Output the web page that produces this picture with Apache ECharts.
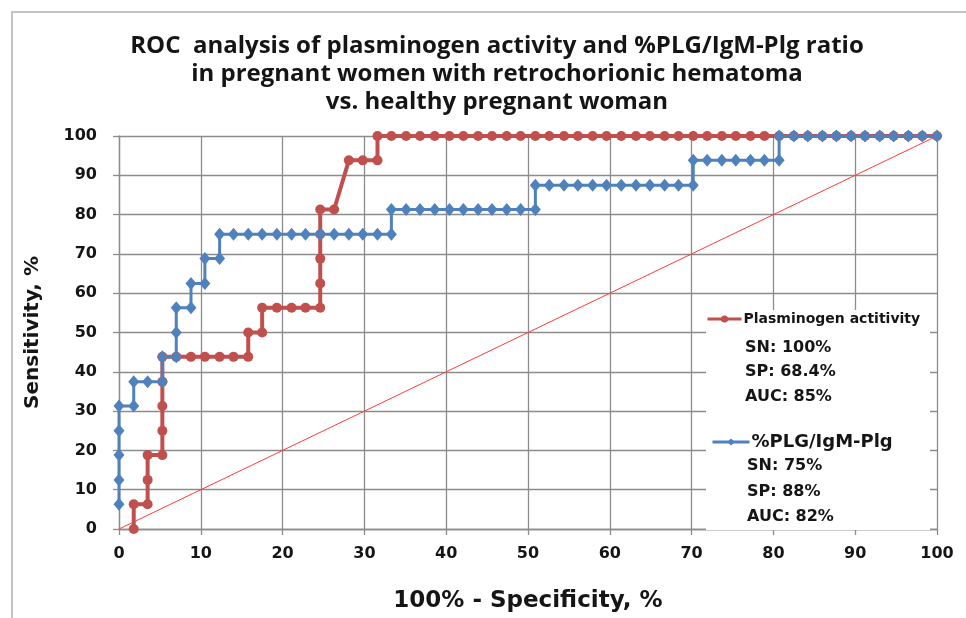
<!DOCTYPE html>
<html>
<head>
<meta charset="utf-8">
<script src="https://cdn.jsdelivr.net/npm/echarts@6/dist/echarts.min.js"></script>
<style>
  html, body { margin: 0; padding: 0; background: #fff; }
  #chart { width: 966px; height: 618px; }
</style>
</head>
<body>
<div id="chart"></div>
<script>
// --- données (100% - spécificité, sensibilité) ---
const plgX = [1.8, 1.8, 3.5, 3.5, 3.5, 5.3, 5.3, 5.3, 5.3, 5.3, 7.0, 8.8, 10.5, 12.3, 14.0, 15.8, 15.8, 17.5, 17.5,
  19.3, 21.1, 22.8, 24.6, 24.6, 24.6, 24.6, 24.6, 26.3, 28.1, 29.8, 31.6, 31.6,
  33.3, 35.1, 36.8, 38.6, 40.4, 42.1, 43.9, 45.6, 47.4, 49.1, 50.9, 52.6, 54.4, 56.1, 57.9, 59.6, 61.4, 63.2, 64.9,
  66.7, 68.4, 70.2, 71.9, 73.7, 75.4, 77.2, 78.9, 80.7, 82.5, 84.2, 86.0, 87.7, 89.5, 91.2, 93.0, 94.7, 96.5, 98.2, 100];
const plgY = [0, 6.3, 6.3, 12.5, 18.8, 18.8, 25, 31.3, 37.5, 43.8, 43.8, 43.8, 43.8, 43.8, 43.8, 43.8, 50, 50, 56.3,
  56.3, 56.3, 56.3, 56.3, 62.5, 68.8, 75, 81.3, 81.3, 93.8, 93.8, 93.8, 100,
  100, 100, 100, 100, 100, 100, 100, 100, 100, 100, 100, 100, 100, 100, 100, 100, 100, 100, 100,
  100, 100, 100, 100, 100, 100, 100, 100, 100, 100, 100, 100, 100, 100, 100, 100, 100, 100, 100, 100];

const ratioX = [0, 0, 0, 0, 0, 1.8, 1.8, 3.5, 5.3, 5.3, 7.0, 7.0, 7.0, 8.8, 8.8, 10.5, 10.5, 12.3, 12.3,
  14.0, 15.8, 17.5, 19.3, 21.1, 22.8, 24.6, 26.3, 28.1, 29.8, 31.6, 33.3,
  33.3, 35.1, 36.8, 38.6, 40.4, 42.1, 43.9, 45.6, 47.4, 49.1, 50.9,
  50.9, 52.6, 54.4, 56.1, 57.9, 59.6, 61.4, 63.2, 64.9, 66.7, 68.4, 70.2,
  70.2, 71.9, 73.7, 75.4, 77.2, 78.9, 80.7,
  80.7, 82.5, 84.2, 86.0, 87.7, 89.5, 91.2, 93.0, 94.7, 96.5, 98.2, 100];
const ratioY = [6.3, 12.5, 18.8, 25, 31.3, 31.3, 37.5, 37.5, 37.5, 43.8, 43.8, 50, 56.3, 56.3, 62.5, 62.5, 68.8, 68.8, 75,
  75, 75, 75, 75, 75, 75, 75, 75, 75, 75, 75, 75,
  81.3, 81.3, 81.3, 81.3, 81.3, 81.3, 81.3, 81.3, 81.3, 81.3, 81.3,
  87.5, 87.5, 87.5, 87.5, 87.5, 87.5, 87.5, 87.5, 87.5, 87.5, 87.5, 87.5,
  93.8, 93.8, 93.8, 93.8, 93.8, 93.8, 93.8,
  100, 100, 100, 100, 100, 100, 100, 100, 100, 100, 100, 100];

const chanceX = [0, 100];
const chanceY = [0, 100];

const titleLines = [
  'ROC  analysis of plasminogen activity and %PLG/IgM-Plg ratio',
  'in pregnant women with retrochorionic hematoma',
  'vs. healthy pregnant woman'
];
const plgName = 'Plasminogen actitivity';
const ratioName = '%PLG/IgM-Plg';
const plgStats = ['SN: 100%', 'SP: 68.4%', 'AUC: 85%'];
const ratioStats = ['SN: 75%', 'SP: 88%', 'AUC: 82%'];

const zip = (xs, ys) => xs.map((x, i) => [x, ys[i]]);

const RED = '#c0504d';
const BLUE = '#4f81bd';
const TXT = '#151515';
const GRID = '#8c8c8c';
const FONT = '"DejaVu Sans", Verdana, sans-serif';

const chart = echarts.init(document.getElementById('chart'));

const statText = (txt, x, y) => ({
  type: 'text', z: 20,
  style: { text: txt, x: x, y: y, fill: TXT, font: 'bold 16px ' + FONT, verticalAlign: 'middle' }
});

const option = {
  backgroundColor: '#fff',
  animation: false,
  title: {
    text: titleLines.join('\n'),
    left: 492, top: 27, textAlign: 'center',
    textStyle: { fontFamily: '"Open Sans", sans-serif', fontWeight: 'bold', fontSize: 24, lineHeight: 28, color: TXT }
  },
  grid: { left: 119, right: 29, top: 136, bottom: 76 },
  xAxis: {
    type: 'value', min: 0, max: 100, interval: 10,
    name: '100% - Specificity, %', nameLocation: 'middle', nameGap: 61,
    nameTextStyle: { fontFamily: FONT, fontWeight: 'bold', fontSize: 23, color: TXT },
    axisLine: { show: true, lineStyle: { color: GRID, width: 1.3 } },
    axisTick: { show: true, length: 6, lineStyle: { color: GRID, width: 1.3 } },
    axisLabel: { margin: 17, fontFamily: FONT, fontWeight: 'bold', fontSize: 16, color: TXT },
    splitLine: { show: true, lineStyle: { color: GRID, width: 1.3 } }
  },
  yAxis: {
    type: 'value', min: 0, max: 100, interval: 10,
    name: 'Sensitivity, %', nameLocation: 'middle', nameGap: 76,
    nameTextStyle: { fontFamily: FONT, fontWeight: 'bold', fontSize: 20, color: TXT },
    axisLine: { show: true, lineStyle: { color: GRID, width: 1.3 } },
    axisTick: { show: true, length: 6, lineStyle: { color: GRID, width: 1.3 } },
    axisLabel: { margin: 22, fontFamily: FONT, fontWeight: 'bold', fontSize: 16, color: TXT },
    splitLine: { show: true, lineStyle: { color: GRID, width: 1.3 } }
  },
  legend: [
    {
      data: [plgName], left: 706, top: 311, padding: 0, itemWidth: 34, itemHeight: 9, itemGap: 0, z: 20,
      lineStyle: { width: 3 },
      textStyle: { fontFamily: FONT, fontWeight: 'bold', fontSize: 14, lineHeight: 16, color: TXT, padding: [0, 0, 0, -3] }
    },
    {
      data: [ratioName], left: 711, top: 432, padding: 0, itemWidth: 37, itemHeight: 9, itemGap: 0, z: 20,
      lineStyle: { width: 3 },
      textStyle: { fontFamily: FONT, fontWeight: 'bold', fontSize: 18, lineHeight: 20, color: TXT, padding: [0, 0, 0, -3] }
    }
  ],
  series: [
    {
      name: 'chance', type: 'line', data: zip(chanceX, chanceY),
      showSymbol: false, silent: true, z: 1,
      lineStyle: { color: '#ff3b3b', width: 1 }
    },
    {
      name: plgName, type: 'line', data: zip(plgX, plgY),
      symbol: 'circle', symbolSize: 10, z: 3,
      itemStyle: { color: RED },
      lineStyle: { color: RED, width: 4 }
    },
    {
      name: ratioName, type: 'line', data: zip(ratioX, ratioY),
      symbol: 'diamond', symbolSize: [11, 13], z: 4,
      itemStyle: { color: BLUE },
      lineStyle: { color: BLUE, width: 3 }
    }
  ],
  graphic: [
    {
      type: 'polyline', z: 0, silent: true,
      shape: { points: [[12, 618], [12, 12], [966, 12]] },
      style: { stroke: '#c4c4c4', lineWidth: 2, fill: null }
    },
    {
      type: 'rect', z: 15, silent: true,
      shape: { x: 706, y: 310, width: 224, height: 220 },
      style: { fill: '#fff' }
    },
    statText(plgStats[0], 745, 348),
    statText(plgStats[1], 745, 372),
    statText(plgStats[2], 745, 397),
    statText(ratioStats[0], 747, 466),
    statText(ratioStats[1], 747, 492),
    statText(ratioStats[2], 747, 517)
  ]
};

chart.setOption(option);
window.addEventListener('resize', () => chart.resize());
</script>
</body>
</html>
